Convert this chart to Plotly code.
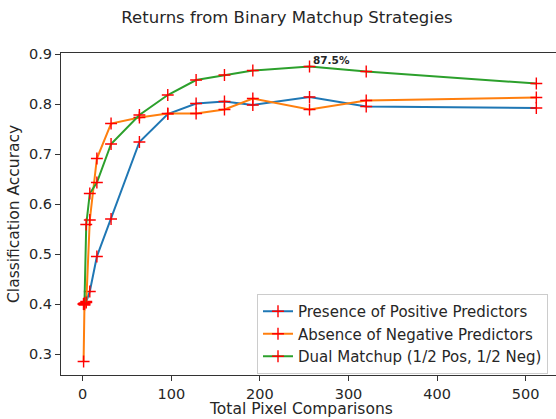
import plotly.graph_objects as go

comparisons = [1, 2, 4, 8, 16, 32, 64, 96, 128, 160, 192, 256, 320, 512]
positive = [0.400, 0.398, 0.405, 0.425, 0.495, 0.570, 0.724, 0.780, 0.801, 0.805, 0.798, 0.814, 0.795, 0.792]
negative = [0.285, 0.400, 0.403, 0.568, 0.691, 0.761, 0.773, 0.781, 0.781, 0.789, 0.811, 0.789, 0.807, 0.813]
dual = [0.400, 0.402, 0.559, 0.621, 0.643, 0.720, 0.778, 0.818, 0.848, 0.858, 0.867, 0.875, 0.865, 0.841]

series_names = ["Presence of Positive Predictors",
                "Absence of Negative Predictors",
                "Dual Matchup (1/2 Pos, 1/2 Neg)"]
series_values = [positive, negative, dual]
colors = ["#1f77b4", "#ff7f0e", "#2ca02c"]

x_ticks = [0, 100, 200, 300, 400, 500]
y_ticks = [0.3, 0.4, 0.5, 0.6, 0.7, 0.8, 0.9]

FONT = "DejaVu Sans"
TXT = "#262626"

fig = go.Figure()
for name, vals, col in zip(series_names, series_values, colors):
    fig.add_trace(go.Scatter(
        x=comparisons, y=vals, name=name, mode="lines+markers",
        line=dict(color=col, width=2),
        marker=dict(symbol="cross-thin", size=8.5, color="red",
                    line=dict(color="red", width=1.4)),
    ))

best_idx = dual.index(max(dual))
fig.add_annotation(x=comparisons[best_idx], y=dual[best_idx],
                   text="<b>%.1f%%</b>" % (dual[best_idx] * 100),
                   showarrow=False, xanchor="left", yanchor="bottom",
                   xshift=1, yshift=-1,
                   font=dict(family=FONT, size=10.5, color=TXT))

fig.add_annotation(xref="paper", yref="paper", x=(301 - 61) / 495, y=(375 - 409) / 322,
                   text="Total Pixel Comparisons", showarrow=False,
                   xanchor="center", yanchor="middle",
                   font=dict(family=FONT, size=15.5, color=TXT))
fig.add_annotation(xref="paper", yref="paper", x=(14 - 61) / 495, y=0.5,
                   text="Classification Accuracy", showarrow=False, textangle=-90,
                   xanchor="center", yanchor="middle",
                   font=dict(family=FONT, size=15.5, color=TXT))

fig.update_layout(
    width=556, height=419,
    margin=dict(l=61, r=0, t=53, b=44),
    paper_bgcolor="white", plot_bgcolor="white",
    font=dict(family=FONT, size=14.5, color=TXT),
    title=dict(text="Returns from Binary Matchup Strategies",
               x=287 / 556, xanchor="center", y=1 - 17 / 419, yanchor="middle",
               font=dict(family=FONT, size=16.5, color=TXT)),
    legend=dict(x=(257 - 61) / 495, y=(375 - 294) / 322, xanchor="left", yanchor="top",
                bgcolor="rgba(255,255,255,0.85)", bordercolor="#cccccc", borderwidth=1,
                font=dict(family=FONT, size=15, color=TXT),
                tracegroupgap=0),
    showlegend=True,
)
fig.update_xaxes(range=[-24.5, 534.2], tickvals=x_ticks, ticks="outside", ticklen=5,
                 tickcolor="#333333", showline=True, linecolor="#333333", linewidth=1.2,
                 mirror=True, showgrid=False, zeroline=False,
                 tickfont=dict(family=FONT, size=14.5, color=TXT))
fig.update_yaxes(range=[0.258, 0.902], tickvals=y_ticks, ticks="outside", ticklen=5,
                 tickcolor="#333333", showline=True, linecolor="#333333", linewidth=1.2,
                 mirror=False, showgrid=False, zeroline=False,
                 tickfont=dict(family=FONT, size=14.5, color=TXT))

fig.write_html("out.html")
